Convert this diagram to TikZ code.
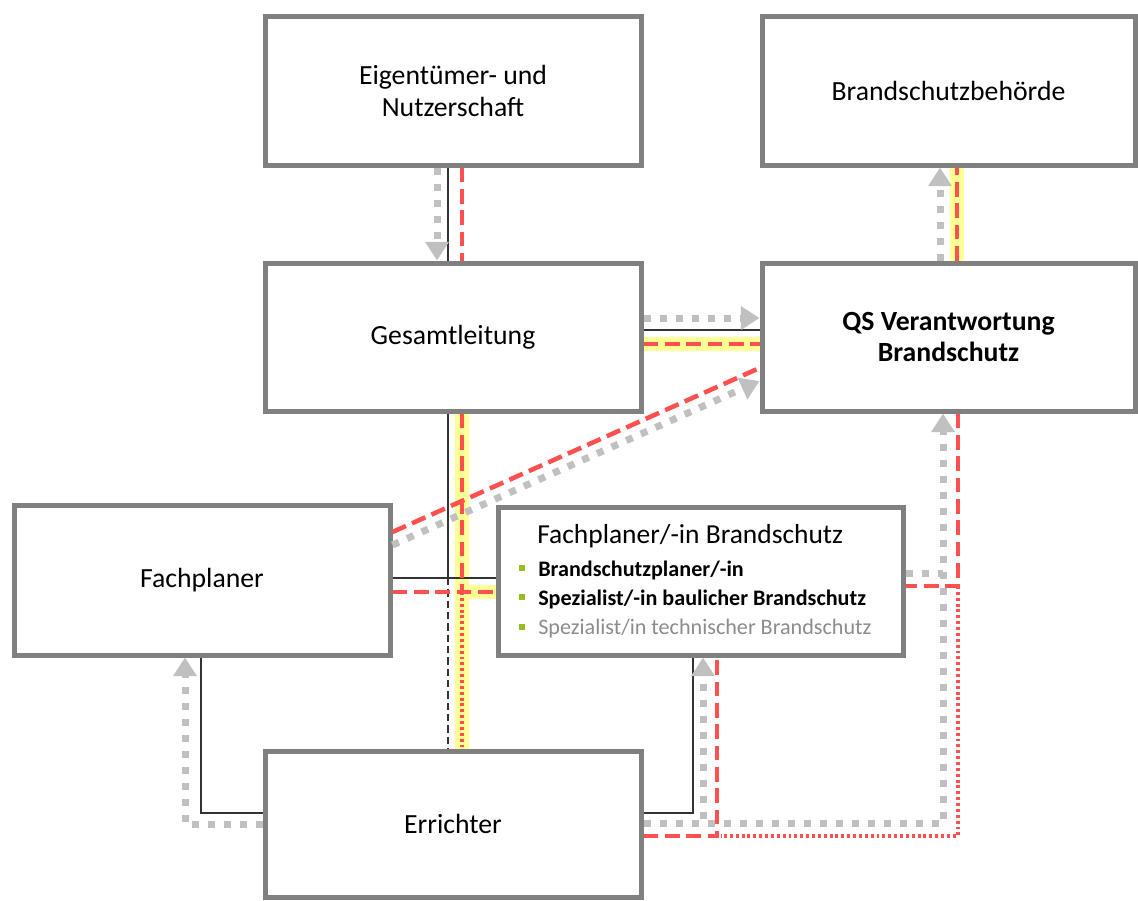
\documentclass[tikz,border=0pt]{standalone}
\usepackage{fontspec}
\setmainfont{Carlito}
\usetikzlibrary{arrows.meta,calc}
\definecolor{boxgray}{RGB}{128,128,128}
\definecolor{lgray}{RGB}{192,192,192}
\definecolor{rred}{RGB}{255,80,80}
\definecolor{hyel}{RGB}{255,255,150}
\definecolor{dline}{RGB}{51,51,51}
\definecolor{bgreen}{RGB}{150,190,30}
\definecolor{tgray}{RGB}{140,140,140}
\begin{document}
\begin{tikzpicture}[x=0.75pt,y=-0.75pt,
  box/.style={draw=boxgray,line width=3.75pt,fill=white,minimum width=282pt,minimum height=111.75pt,
    font=\fontsize{20.8}{24}\selectfont,align=center,inner sep=0pt},
  widebox/.style={box,minimum width=279.75pt},
  grayarr/.style={lgray,line width=5.25pt,dash pattern=on 5.25pt off 6.75pt,-{Triangle[width=17pt,length=14pt]}},
  graydot/.style={lgray,line width=5.25pt,dash pattern=on 5.25pt off 6.75pt},
  blk/.style={dline,line width=1.8pt},
  blkdash/.style={dline,line width=1.8pt,dash pattern=on 5.5pt off 3pt},
  rdash/.style={rred,line width=3.4pt,dash pattern=on 11pt off 5pt},
  rdot/.style={rred,line width=2.4pt,dash pattern=on 2.2pt off 2.2pt},
  hl/.style={hyel,line width=10pt},
  item/.style={anchor=base west,inner sep=0pt,font=\fontsize{16.6}{19}\selectfont},
  bullet/.style={fill=bgreen,inner sep=0pt,minimum size=4.5pt}
]
\useasboundingbox (0,0) rectangle (1138,900);

% boxes
\node[box] (eig) at (453,90.5) {Eigentümer- und\\Nutzerschaft};
\node[widebox] (beh) at (948.5,90.5) {Brandschutzbehörde};
\node[box,minimum height=111pt] (ges) at (453,337) {Gesamtleitung};
\node[widebox,minimum height=111pt,font=\fontsize{20.8}{24}\selectfont\bfseries] (qs) at (948.5,337) {QS Verantwortung\\Brandschutz};
\node[box,minimum height=112.5pt] (fp) at (202,580) {Fachplaner};
\node[box,minimum width=303.75pt,minimum height=111pt] (fb) at (700.5,581) {};
\node[box,minimum height=109.5pt] (err) at (453,824) {Errichter};

% text inside Fachplaner Brandschutz
\node[anchor=base west,inner sep=0pt,font=\fontsize{20.6}{24}\selectfont] (fbt) at (537,543) {Fachplaner/-in Brandschutz};
\node[item,font=\fontsize{16.6}{19}\selectfont\bfseries] (i1) at (538,576) {Brandschutzplaner/-in};
\node[item,font=\fontsize{16.6}{19}\selectfont\bfseries] (i2) at (538,605) {Spezialist/-in baulicher Brandschutz};
\node[item,text=tgray] (i3) at (538,634) {Spezialist/in technischer Brandschutz};
\node[bullet] (b1) at (522,568) {};
\node[bullet] (b2) at (522,597) {};
\node[bullet] (b3) at (522,627) {};

% helper coordinates
\coordinate (hb) at ($(fp.east)+(0,-2)$);
\coordinate (hr) at ($(fp.east)+(0,12)$);
\coordinate (vb) at ($(ges.south)+(-5,0)$);
\coordinate (vr) at ($(ges.south)+(9,0)$);
\coordinate (gq) at ($(qs.south)+(-5.5,0)$);
\coordinate (rq) at ($(qs.south)+(9.5,0)$);
\coordinate (rf) at ($(fb.east)+(0,5)$);
\coordinate (re) at ($(err.east)+(0,12)$);
\coordinate (rfb) at ($(fb.south)+(16.5,0)$);
\coordinate (g1) at ($(fb.east)+(0,-8)$);

% yellow highlights
\draw[hl] ($(ges.east)+(0,7)$) -- ($(qs.west)+(0,7)$);
\draw[hl] ($(qs.north)+(8.5,0)$) -- ($(beh.south)+(8.5,0)$);
\draw[hl] (vr) -- (vr |- err.north);
\draw[hl] (vr |- hr) -- (hr -| fb.west);

% black lines
\draw[blk] ($(eig.south)+(-5,0)$) -- ($(ges.north)+(-5,0)$);
\draw[blk] ($(ges.east)+(0,-7)$) -- ($(qs.west)+(0,-7)$);
\draw[blk] (vb) -- (vb |- hb);
\draw[blk] (hb) -- (hb -| fb.west);
\draw[blkdash] (vb |- hb) -- (vb |- err.north);
\draw[blk] ($(fp.south)+(-1,0)$) |- ($(err.west)+(0,-11)$);
\draw[blk] ($(err.east)+(0,-11)$) -| ($(fb.south)+(-7.5,0)$);

% gray dotted arrows
\draw[grayarr] ($(eig.south)+(-16,0)$) -- ($(ges.north)+(-16,0)$);
\draw[grayarr] ($(ges.east)+(0,-19)$) -- ($(qs.west)+(0,-19)$);
\draw[grayarr] ($(qs.north)+(-8.5,0)$) -- ($(beh.south)+(-8.5,0)$);
\draw[grayarr] ($(fp.east)+(0,-35)$) -- ($(qs.west)+(0,44)$);
\draw[grayarr] (err.west) -| ($(fp.south)+(-17,0)$);
\draw[grayarr] ($(err.east)+(0,-1)$) -| ($(fb.south)+(2.5,0)$);
\draw[grayarr] ($(err.east)+(0,-1)$) -| (gq);
\draw[graydot] (g1) -- (g1 -| gq);

% red lines
\draw[rdash] ($(eig.south)+(9,0)$) -- ($(ges.north)+(9,0)$);
\draw[rdash] ($(ges.east)+(0,7)$) -- ($(qs.west)+(0,7)$);
\draw[rdash] ($(qs.north)+(8.5,0)$) -- ($(beh.south)+(8.5,0)$);
\draw[rdash] ($(fp.east)+(0,-48)$) -- ($(qs.west)+(0,31)$);
\draw[rdash] (vr) -- (vr |- hr);
\draw[rdash] (hr) -- (hr -| fb.west);
\draw[rdot] (vr |- hr) -- (vr |- err.north);
\draw[rdash] (re) -| (rfb);
\draw[rdash] (rq) |- (rf);
\draw[rdot] (rq |- rf) |- ($(rfb |- re)+(4,0)$);
\end{tikzpicture}
\end{document}
